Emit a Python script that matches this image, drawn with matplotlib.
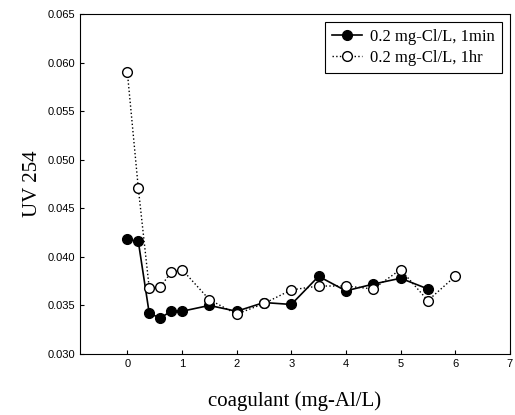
import matplotlib.pyplot as plt

x_1min = [0, 0.2, 0.4, 0.6, 0.8, 1.0, 1.5, 2.0, 2.5, 3.0, 3.5, 4.0, 4.5, 5.0, 5.5]
y_1min = [0.0418, 0.0416, 0.0342, 0.0337, 0.0344, 0.0344, 0.0350, 0.0344, 0.0353,
          0.0351, 0.0380, 0.0365, 0.0372, 0.0378, 0.0367]

x_1hr = [0, 0.2, 0.4, 0.6, 0.8, 1.0, 1.5, 2.0, 2.5, 3.0, 3.5, 4.0, 4.5, 5.0, 5.5, 6.0]
y_1hr = [0.0590, 0.0471, 0.0368, 0.0369, 0.0384, 0.0387, 0.0356, 0.0341, 0.0352,
         0.0366, 0.0370, 0.0370, 0.0367, 0.0387, 0.0355, 0.0380]

fig = plt.figure(figsize=(5.15, 4.15), dpi=100)
ax = fig.add_axes([0.155, 0.147, 0.835, 0.819])

ax.plot(x_1min, y_1min, '-o', color='black', markerfacecolor='black',
        markersize=7, linewidth=1.2, label='0.2 mg-Cl/L, 1min')
ax.plot(x_1hr, y_1hr, ':o', color='black', markerfacecolor='white',
        markersize=7, linewidth=1.0, label='0.2 mg-Cl/L, 1hr')

ax.set_xlim(-0.87, 7)
ax.set_ylim(0.030, 0.065)
ax.set_xticks(range(0, 8))
ax.set_yticks([0.030, 0.035, 0.040, 0.045, 0.050, 0.055, 0.060, 0.065])
ax.set_yticklabels(['%.3f' % v for v in ax.get_yticks()])
ax.tick_params(direction='in', labelsize=8, length=3)
for lab in ax.get_xticklabels() + ax.get_yticklabels():
    lab.set_family('Liberation Sans')

ax.set_xlabel('coagulant (mg-Al/L)', family='Liberation Serif', fontsize=15, labelpad=16)
ax.set_ylabel('UV 254', family='Liberation Serif', fontsize=15, labelpad=4)

leg = ax.legend(loc='upper right', prop={'family': 'Liberation Serif', 'size': 12},
                fancybox=False, edgecolor='black', framealpha=1,
                handlelength=1.8, handletextpad=0.5, borderaxespad=0.5,
                labelspacing=0.3)
leg.get_frame().set_linewidth(0.8)

plt.savefig('out.png', dpi=100)
plt.close(fig)
